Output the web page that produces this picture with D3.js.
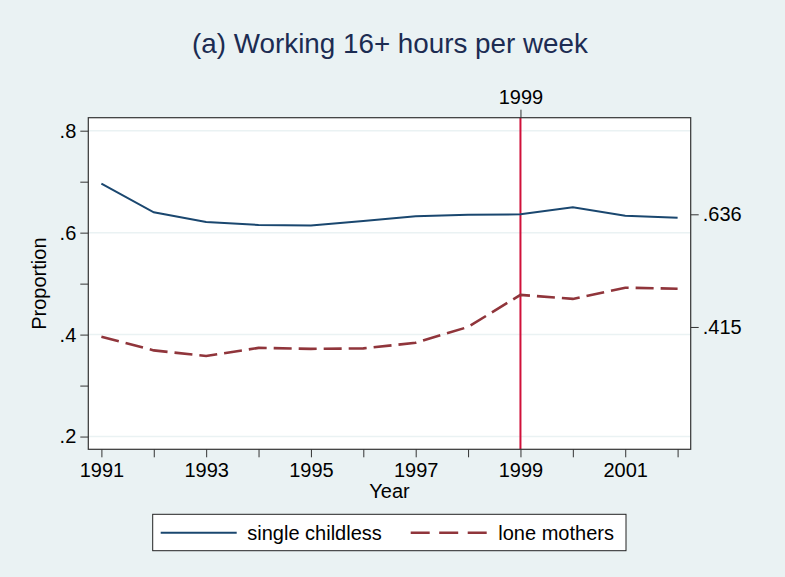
<!DOCTYPE html>
<html>
<head>
<meta charset="utf-8">
<script src="https://cdn.jsdelivr.net/npm/d3@7"></script>
<style>
  body { margin: 0; background: #eaf2f3; }
  svg { display: block; font-family: "Liberation Sans", Arial, sans-serif; }
</style>
</head>
<body>
<div id="graph"></div>
<script>
// data
const years = [1991, 1992, 1993, 1994, 1995, 1996, 1997, 1998, 1999, 2000, 2001, 2002];
const singleChildless = [0.696, 0.640, 0.621, 0.615, 0.614, 0.623, 0.632, 0.635, 0.636, 0.650, 0.633, 0.629];
const loneMothers = [0.396, 0.369, 0.358, 0.374, 0.372, 0.373, 0.384, 0.415, 0.478, 0.470, 0.492, 0.490];
const yMajor = [0.2, 0.4, 0.6, 0.8];
const yMinor = [0.3, 0.5, 0.7];
const rightTicks = [0.636, 0.415];
const xLabelYears = [1991, 1993, 1995, 1997, 1999, 2001];
const reformYear = 1999;

const width = 785, height = 577;
const plot = {left: 88.3, right: 690.7, top: 117.7, bottom: 449.3};
const fontSize = 20;

const svg = d3.select("#graph")
  .append("svg")
    .attr("width", width)
    .attr("height", height);

svg.append("rect")
  .attr("width", width).attr("height", height)
  .attr("fill", "#eaf2f3");

const x = d3.scaleLinear().domain([1990.75, 2002.25]).range([plot.left, plot.right]);
const y = d3.scaleLinear().domain([0.175, 0.8255]).range([plot.bottom, plot.top]);

const fmt = d => d3.format(".1f")(d).replace(/^0/, "");
const fmt3 = d => d3.format(".3f")(d).replace(/^0/, "");

// plot region
svg.append("rect")
  .attr("x", plot.left).attr("y", plot.top)
  .attr("width", plot.right - plot.left).attr("height", plot.bottom - plot.top)
  .attr("fill", "#ffffff");

// gridlines
svg.append("g")
  .selectAll("line")
  .data(yMajor)
  .enter().append("line")
    .attr("x1", plot.left).attr("x2", plot.right)
    .attr("y1", d => y(d)).attr("y2", d => y(d))
    .attr("stroke", "#eaf2f3")
    .attr("stroke-width", 1.5);

// title
svg.append("text")
  .attr("x", 390).attr("y", 53.3)
  .attr("text-anchor", "middle")
  .attr("font-size", 27.8)
  .attr("fill", "#1c2c52")
  .text("(a) Working 16+ hours per week");

// axes
function styleAxis(g) {
  g.select(".domain").remove();
  g.selectAll(".tick line").attr("stroke", "#333").attr("stroke-width", 1);
  g.selectAll(".tick text").attr("fill", "#000").attr("font-size", fontSize)
    .attr("font-family", "'Liberation Sans', Arial, sans-serif");
}

svg.append("g")
  .attr("transform", `translate(${plot.left},0)`)
  .call(d3.axisLeft(y).tickValues(yMajor).tickFormat(fmt).tickSize(8).tickPadding(4))
  .call(styleAxis);

svg.append("g")
  .attr("transform", `translate(${plot.left},0)`)
  .call(d3.axisLeft(y).tickValues(yMinor).tickFormat("").tickSize(8))
  .call(styleAxis);

svg.append("g")
  .attr("transform", `translate(${plot.right},0)`)
  .call(d3.axisRight(y).tickValues(rightTicks).tickFormat(fmt3).tickSize(8).tickPadding(4))
  .call(styleAxis);

svg.append("g")
  .attr("transform", `translate(0,${plot.bottom})`)
  .call(d3.axisBottom(x).tickValues(years)
    .tickFormat(d => xLabelYears.includes(d) ? String(d) : "")
    .tickSize(8).tickPadding(6))
  .call(styleAxis);

svg.append("g")
  .attr("transform", `translate(0,${plot.top})`)
  .call(d3.axisTop(x).tickValues([reformYear]).tickFormat(String).tickSize(8).tickPadding(6))
  .call(styleAxis);

// axis titles
svg.append("text")
  .attr("x", x(1996.5)).attr("y", 498)
  .attr("text-anchor", "middle")
  .attr("font-size", fontSize)
  .text("Year");

svg.append("text")
  .attr("transform", `translate(46,${y(0.5)}) rotate(-90)`)
  .attr("text-anchor", "middle")
  .attr("font-size", fontSize)
  .text("Proportion");

// reform line
svg.append("line")
  .attr("x1", x(reformYear)).attr("x2", x(reformYear))
  .attr("y1", plot.top).attr("y2", plot.bottom)
  .attr("stroke", "#d0103a")
  .attr("stroke-width", 2);

// series
const line = d3.line()
  .x((d, i) => x(years[i]))
  .y(d => y(d));

svg.append("path")
  .datum(singleChildless)
  .attr("d", line)
  .attr("fill", "none")
  .attr("stroke", "#1a476f")
  .attr("stroke-width", 2);

svg.append("path")
  .datum(loneMothers)
  .attr("d", line)
  .attr("fill", "none")
  .attr("stroke", "#90353b")
  .attr("stroke-width", 2.6)
  .attr("stroke-dasharray", "18,7");

// plot border
svg.append("rect")
  .attr("x", plot.left).attr("y", plot.top)
  .attr("width", plot.right - plot.left).attr("height", plot.bottom - plot.top)
  .attr("fill", "none")
  .attr("stroke", "#333")
  .attr("stroke-width", 1.2);

// legend
const legend = svg.append("g");
legend.append("rect")
  .attr("x", 152.7).attr("y", 514.3)
  .attr("width", 626 - 152.7).attr("height", 550.7 - 514.3)
  .attr("fill", "#ffffff")
  .attr("stroke", "#222")
  .attr("stroke-width", 1);

const legendItems = [
  {label: "single childless", color: "#1a476f", dash: null, w: 2, x0: 160.7, tx: 247.3},
  {label: "lone mothers", color: "#90353b", dash: "19,9.5", w: 2.6, x0: 410.7, tx: 498.3}
];

legendItems.forEach(d => {
  legend.append("line")
    .attr("x1", d.x0).attr("x2", d.x0 + 76)
    .attr("y1", 532.7).attr("y2", 532.7)
    .attr("stroke", d.color)
    .attr("stroke-width", d.w)
    .attr("stroke-dasharray", d.dash);
  legend.append("text")
    .attr("x", d.tx).attr("y", 540)
    .attr("font-size", fontSize)
    .text(d.label);
});
</script>
</body>
</html>
